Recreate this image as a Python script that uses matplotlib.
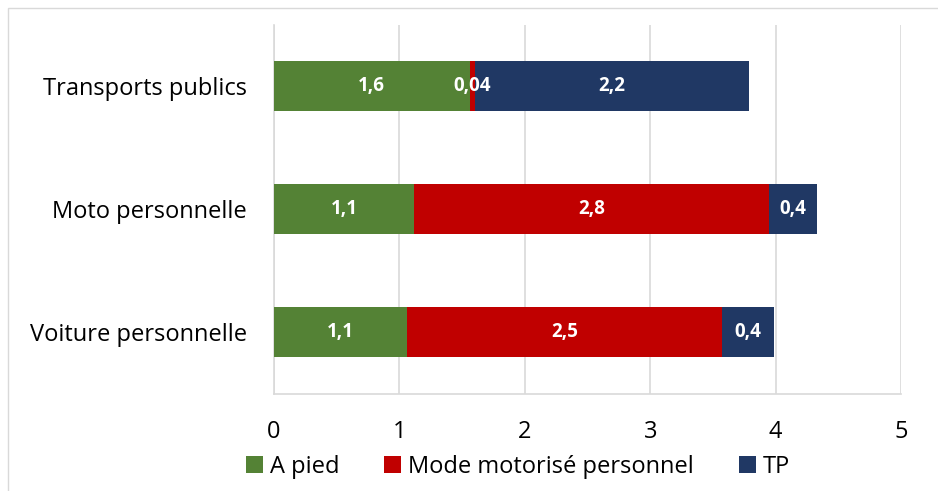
import matplotlib
matplotlib.use("Agg")
import matplotlib.pyplot as plt
from matplotlib.patches import Rectangle

categories = ["Voiture personnelle", "Moto personnelle", "Transports publics"]
a_pied = [1.06, 1.12, 1.56]
motorise = [2.51, 2.83, 0.04]
tp = [0.42, 0.38, 2.19]
labels_a_pied = ["1,1", "1,1", "1,6"]
labels_motorise = ["2,5", "2,8", "0,04"]
labels_tp = ["0,4", "0,4", "2,2"]
series_names = ["A pied", "Mode motorisé personnel", "TP"]
colors = ["#548235", "#C00000", "#203864"]

plt.rcParams['font.family'] = ['Open Sans', 'DejaVu Sans']

fig = plt.figure(figsize=(9.38, 4.91), dpi=100)
fig.patches.append(Rectangle((8/938, -0.1), 1.2, (491-8)/491 + 0.1, transform=fig.transFigure,
                             fill=False, edgecolor="#d9d9d9", linewidth=1))
ax = fig.add_axes([274/938, (491-393.5)/491, 627/938, 369/491])

y = list(range(len(categories)))
lefts = [0]*len(categories)
for vals, labs, name, c in zip([a_pied, motorise, tp], [labels_a_pied, labels_motorise, labels_tp], series_names, colors):
    bars = ax.barh(y, vals, left=lefts, height=0.4, color=c, label=name, zorder=3)
    ax.bar_label(bars, labels=labs, label_type='center', color='white', fontsize=13.5, fontweight='bold', zorder=4)
    lefts = [l + v for l, v in zip(lefts, vals)]

ax.set_xlim(0, 5)
ax.set_ylim(-0.5, 2.5)
ax.set_yticks(y)
ax.set_yticklabels(categories, fontsize=17)
ax.set_xticks([0, 1, 2, 3, 4, 5])
ax.tick_params(axis='x', labelsize=17, length=0, pad=19)
ax.tick_params(axis='y', length=0, pad=19.5)
ax.grid(axis='x', color='#d9d9d9', linewidth=1.2, zorder=0)
for s in ['top', 'right']:
    ax.spines[s].set_visible(False)
for s in ['left', 'bottom']:
    ax.spines[s].set_color('#d9d9d9')
    ax.spines[s].set_linewidth(1.2)

fig.legend(*ax.get_legend_handles_labels(), loc='center', bbox_to_anchor=(518/938, 1 - 467/491), ncol=3, frameon=False,
           fontsize=17, handlelength=0.72, handleheight=0.72, handletextpad=0.3, columnspacing=1.9,
           borderaxespad=0, borderpad=0)

fig.savefig("out.png", dpi=100)
